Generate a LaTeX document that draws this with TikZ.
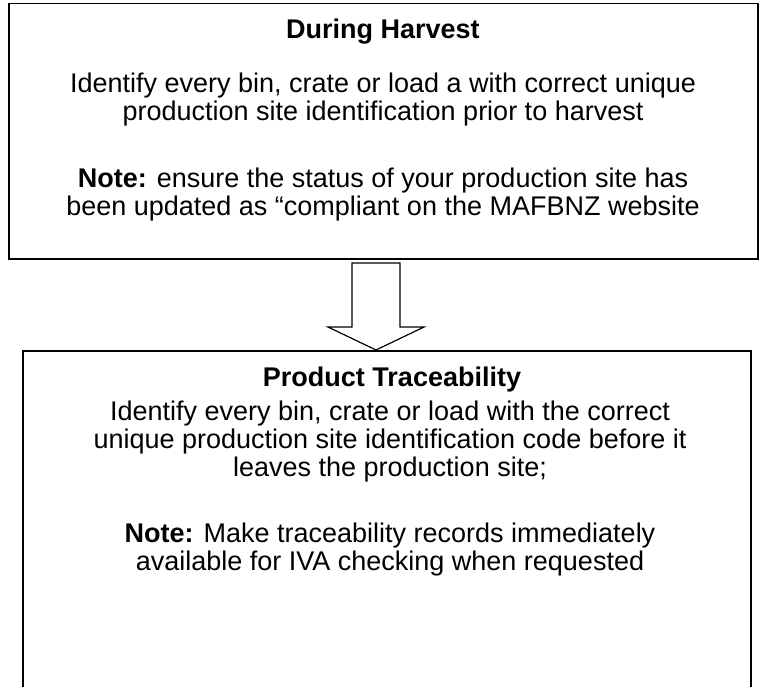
\documentclass[tikz,border=0pt]{standalone}
\usepackage{fontspec}
\setmainfont{Liberation Sans}
\usetikzlibrary{positioning}
\tikzset{
  panel/.style={draw, line width=1.5pt, rectangle, anchor=north west, inner sep=0pt},
  heading/.style={font=\fontsize{27}{28}\selectfont\bfseries},
  bodytext/.style={font=\fontsize{27}{28}\selectfont, align=center},
  flowarrow/.style={draw, line width=1.2pt, line join=miter},
}
\begin{document}
\begin{tikzpicture}[x=1pt,y=-1pt]
  \useasboundingbox (0,0) rectangle (771,687);
  % upper panel
  \node[panel, minimum width=749pt, minimum height=255pt] (harvest) at (8,3) {};
  \node[heading] (harvesttitle) at (383,32) {During Harvest};
  \node[bodytext] (harvestid) at (383,100) {Identify every bin, crate or load a with correct unique\\production site identification prior to harvest};
  \node[bodytext] (harvestnote) at (383,195) {\textbf{Note:} ensure the status of your production site has\\been updated as “compliant on the MAFBNZ website};
  % lower panel
  \node[panel, minimum width=728pt, minimum height=360pt] (trace) at (22,350) {};
  \node[heading] (tracetitle) at (392,380) {Product Traceability};
  \node[bodytext] (traceid) at (390,442) {Identify every bin, crate or load with the correct\\unique production site identification code before it\\leaves the production site;};
  \node[bodytext] (tracenote) at (390,550) {\textbf{Note:} Make traceability records immediately\\available for IVA checking when requested};
  % block arrow
  \coordinate (tip) at (376,350);
  \draw[flowarrow] (352,263) -- (400,263) -- (400,327) -- (424,327) -- (tip)
    -- (328,327) -- (352,327) -- cycle;
\end{tikzpicture}
\end{document}
